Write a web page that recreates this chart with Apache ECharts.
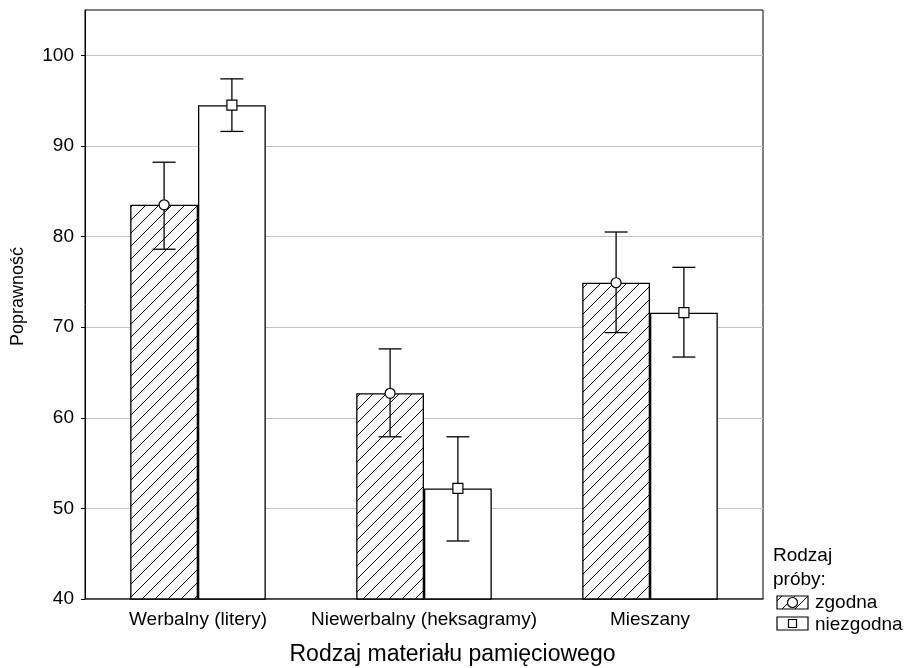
<!DOCTYPE html>
<html>
<head>
<meta charset="utf-8">
<script src="https://cdn.jsdelivr.net/npm/echarts@6/dist/echarts.min.js"></script>
<style>html,body{margin:0;padding:0;background:#fff;}#c{width:905px;height:668px;}</style>
</head>
<body>
<div id="c"></div>
<script>
const categories = ['Werbalny (litery)', 'Niewerbalny (heksagramy)', 'Mieszany'];
const zgodna = [83.5, 62.7, 74.9];
const zgodnaLow = [78.6, 57.9, 69.4];
const zgodnaHigh = [88.2, 67.6, 80.5];
const niezgodna = [94.5, 52.2, 71.6];
const niezgodnaLow = [91.6, 46.4, 66.7];
const niezgodnaHigh = [97.4, 57.9, 76.6];
const yTicks = [40, 50, 60, 70, 80, 90, 100];

const FONT = 'Liberation Sans, Arial, sans-serif';

function hatchCanvas(size) {
  const c = document.createElement('canvas');
  c.width = size; c.height = size;
  const g = c.getContext('2d');
  g.fillStyle = '#fff';
  g.fillRect(0, 0, size, size);
  g.strokeStyle = '#000';
  g.lineWidth = 1;
  g.beginPath();
  g.moveTo(-1, size + 1); g.lineTo(size + 1, -1);
  g.moveTo(-1, 1); g.lineTo(1, -1);
  g.moveTo(size - 1, size + 1); g.lineTo(size + 1, size - 1);
  g.stroke();
  return c;
}
const hatch = { image: hatchCanvas(13), repeat: 'repeat' };

const chart = echarts.init(document.getElementById('c'));

function errRender(side, markerType) {
  return function (params, api) {
    const i = api.value(0);
    const mean = api.coord([i, api.value(1)]);
    const lo = api.coord([i, api.value(2)]);
    const hi = api.coord([i, api.value(3)]);
    const bw = api.size([1, 0])[0] * 0.3;
    const x = mean[0] + side * bw / 2;
    const cap = 11.5;
    const st = { stroke: '#000', lineWidth: 1.3 };
    const children = [
      { type: 'line', shape: { x1: x, y1: hi[1], x2: x, y2: lo[1] }, style: st },
      { type: 'line', shape: { x1: x - cap, y1: hi[1], x2: x + cap, y2: hi[1] }, style: st },
      { type: 'line', shape: { x1: x - cap, y1: lo[1], x2: x + cap, y2: lo[1] }, style: st }
    ];
    if (markerType === 'circle') {
      children.push({ type: 'circle', shape: { cx: x, cy: mean[1], r: 5 }, style: { fill: '#fff', stroke: '#000', lineWidth: 1.2 } });
    } else {
      children.push({ type: 'rect', shape: { x: x - 5, y: mean[1] - 5, width: 10, height: 10 }, style: { fill: '#fff', stroke: '#000', lineWidth: 1.2 } });
    }
    return { type: 'group', children: children };
  };
}

const option = {
  backgroundColor: '#fff',
  animation: false,
  title: {
    text: 'Rodzaj materiału pamięciowego',
    left: 'center', top: 643,
    padding: 0,
    textStyle: { color: '#000', fontSize: 23, fontWeight: 'normal', fontFamily: FONT }
  },
  grid: { left: 85, top: 10, right: 142, bottom: 69, show: true, borderColor: '#000', borderWidth: 1,
    backgroundColor: 'transparent', outerBoundsMode: 'none', containLabel: false },
  xAxis: {
    type: 'category',
    data: categories,
    axisTick: { show: false },
    axisLine: { lineStyle: { color: '#333', width: 1.5 } },
    axisLabel: { color: '#000', fontSize: 19, fontFamily: FONT, margin: 11, interval: 0 }
  },
  yAxis: {
    type: 'value',
    min: 40, max: 105, interval: 10,
    axisLine: { show: true, lineStyle: { color: '#000' } },
    axisTick: { show: true, length: 4, lineStyle: { color: '#000' }, customValues: yTicks },
    axisLabel: { color: '#000', fontSize: 19, fontFamily: FONT, margin: 11, customValues: yTicks },
    splitLine: { lineStyle: { color: '#c4c4c4' } },
    name: 'Poprawność',
    nameLocation: 'middle',
    nameGap: 58,
    nameTextStyle: { color: '#000', fontSize: 18, fontFamily: FONT, padding: [0, 0, 0, 16] }
  },
  series: [
    { name: 'zgodna', type: 'bar', data: zgodna, barGap: '0%', barCategoryGap: '40%',
      itemStyle: { color: hatch, borderColor: '#000', borderWidth: 1.3 }, z: 2 },
    { name: 'niezgodna', type: 'bar', data: niezgodna, barGap: '0%', barCategoryGap: '40%',
      itemStyle: { color: '#fff', borderColor: '#000', borderWidth: 1.3 }, z: 2 },
    { type: 'custom', renderItem: errRender(-1, 'circle'), z: 5,
      data: zgodna.map((v, i) => [i, v, zgodnaLow[i], zgodnaHigh[i]]) },
    { type: 'custom', renderItem: errRender(1, 'square'), z: 5,
      data: niezgodna.map((v, i) => [i, v, niezgodnaLow[i], niezgodnaHigh[i]]) }
  ],
  graphic: [
    { type: 'text', x: 773, y: 556, style: { text: 'Rodzaj', font: '19px ' + FONT, fill: '#000', verticalAlign: 'middle' } },
    { type: 'text', x: 773, y: 580, style: { text: 'próby:', font: '19px ' + FONT, fill: '#000', verticalAlign: 'middle' } },
    { type: 'rect', shape: { x: 777, y: 596, width: 31, height: 13 }, style: { fill: hatch, stroke: '#000', lineWidth: 1.2 } },
    { type: 'circle', shape: { cx: 792.5, cy: 602.5, r: 5 }, style: { fill: '#fff', stroke: '#000', lineWidth: 1.2 } },
    { type: 'text', x: 815, y: 603, style: { text: 'zgodna', font: '19px ' + FONT, fill: '#000', verticalAlign: 'middle' } },
    { type: 'rect', shape: { x: 777, y: 617, width: 31, height: 13 }, style: { fill: '#fff', stroke: '#000', lineWidth: 1.2 } },
    { type: 'rect', shape: { x: 788.5, y: 619.5, width: 8, height: 8 }, style: { fill: '#fff', stroke: '#000', lineWidth: 1.2 } },
    { type: 'text', x: 815, y: 625, style: { text: 'niezgodna', font: '19px ' + FONT, fill: '#000', verticalAlign: 'middle' } }
  ]
};
chart.setOption(option);
</script>
</body>
</html>
